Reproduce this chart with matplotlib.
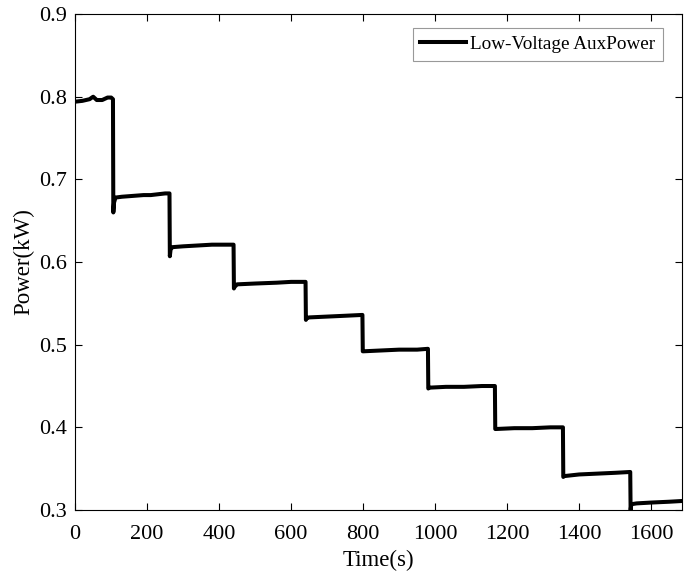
import matplotlib.pyplot as plt
import numpy as np

plt.rcParams['font.family'] = ['Liberation Serif', 'DejaVu Serif']

# readings (s, kW) taken off the step trace
time_s = [0, 20, 40, 50, 60, 75, 90, 100, 105,
          106, 108, 112, 130, 160, 190, 210, 230, 250, 262,
          263, 265, 270, 300, 340, 380, 420, 440,
          441, 443, 450, 500, 560, 600, 640,
          641, 643, 650, 700, 750, 798,
          799, 801, 850, 900, 950, 980,
          981, 983, 1030, 1080, 1130, 1166,
          1167, 1169, 1220, 1270, 1320, 1355,
          1356, 1358, 1400, 1450, 1500, 1542,
          1543, 1545, 1560, 1600, 1650, 1690]
power_kw = [0.794, 0.795, 0.797, 0.800, 0.796, 0.796, 0.799, 0.799, 0.797,
            0.660, 0.672, 0.678, 0.679, 0.680, 0.681, 0.681, 0.682, 0.683, 0.683,
            0.607, 0.615, 0.618, 0.619, 0.620, 0.621, 0.621, 0.621,
            0.568, 0.570, 0.573, 0.574, 0.575, 0.576, 0.576,
            0.530, 0.532, 0.533, 0.534, 0.535, 0.536,
            0.492, 0.492, 0.493, 0.494, 0.494, 0.495,
            0.447, 0.448, 0.449, 0.449, 0.450, 0.450,
            0.398, 0.398, 0.399, 0.399, 0.400, 0.400,
            0.340, 0.341, 0.343, 0.344, 0.345, 0.346,
            0.300, 0.307, 0.308, 0.309, 0.310, 0.311]

fig = plt.figure(figsize=(6.96, 5.74), dpi=100)
ax = fig.add_axes([0.108, 0.1115, 0.872, 0.864])

ax.plot(time_s, power_kw, color='black', linewidth=2.9, label='Low-Voltage AuxPower')

ax.set_xlim(0, 1686)
ax.set_ylim(0.3, 0.9)
ax.set_xticks(np.arange(0, 1601, 200))
ax.set_yticks(np.arange(0.3, 0.91, 0.1))
ax.set_yticklabels(['0.3', '0.4', '0.5', '0.6', '0.7', '0.8', '0.9'])
ax.tick_params(direction='in', top=True, right=True, labelsize=16, length=5, width=0.8)
ax.tick_params(axis='x', pad=11)
ax.tick_params(axis='y', pad=6)
ax.set_xlabel('Time(s)', fontsize=16.5, labelpad=4)
ax.set_ylabel('Power(kW)', fontsize=16.5, labelpad=3)

leg = ax.legend(loc='upper right', bbox_to_anchor=(0.9687, 0.9718), borderaxespad=0,
                fontsize=13.8, fancybox=False, framealpha=1, edgecolor='#999999',
                handlelength=2.35, handletextpad=0.25, borderpad=0.4)
leg.get_frame().set_linewidth(0.8)

plt.savefig('out.png', dpi=100)
